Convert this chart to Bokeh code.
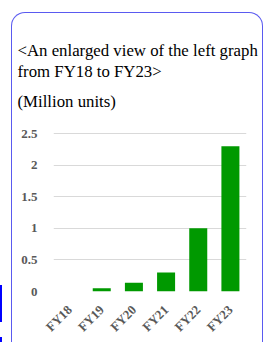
from bokeh.plotting import figure
from bokeh.models import FactorRange, Range1d, Title, InlineStyleSheet
from bokeh.embed import file_html
from bokeh.resources import INLINE
from math import pi

categories = ["FY18", "FY19", "FY20", "FY21", "FY22", "FY23"]
values = [0.0, 0.05, 0.14, 0.30, 1.0, 2.3]
y_ticks = [0, 0.5, 1, 1.5, 2, 2.5]
title_lines = ["<An enlarged view of the left graph", "from FY18 to FY23>"]
unit_label = "(Million units)"

W, H = 263, 342
p = figure(width=W, height=H, x_range=FactorRange(*categories, range_padding=0),
           y_range=Range1d(0, 2.77), output_backend="svg", toolbar_location=None,
           min_border_left=53, min_border_right=17, min_border_top=116, min_border_bottom=51)
p.outline_line_color = None
p.background_fill_color = None
p.border_fill_color = "white"

p.vbar(x=categories, top=values, width=0.56, fill_color="#009900", line_color=None)

p.xgrid.grid_line_color = None
p.ygrid.grid_line_color = "#d9d9d9"
p.ygrid.grid_line_width = 1
p.yaxis.ticker = y_ticks
p.yaxis.major_label_overrides = {0: "0", 0.5: "0.5", 1: "1", 1.5: "1.5", 2: "2", 2.5: "2.5"}

for ax in (p.xaxis[0], p.yaxis[0]):
    ax.axis_line_color = None
    ax.major_tick_line_color = None
    ax.minor_tick_line_color = None
    ax.major_label_text_font = "Liberation Serif"
    ax.major_label_text_font_style = "bold"
    ax.major_label_text_font_size = "13px"
    ax.major_label_text_color = "#595959"
p.yaxis.major_label_standoff = 10
p.xaxis.major_label_orientation = pi / 4
p.xaxis.major_label_standoff = 10

def make_title(text, standoff):
    return Title(text=text, align="left", offset=-36, standoff=standoff,
                 text_font="Liberation Serif", text_font_size="16.8px",
                 text_font_style="normal", text_color="black")

p.title = make_title(title_lines[0], -4)
p.add_layout(make_title(unit_label, 12), "above")
p.add_layout(make_title(title_lines[1], 5), "above")

css = """
:host { overflow: visible; }
:host::after {
  content: ""; position: absolute; left: 11px; top: 12px; width: 252px; height: 330px;
  box-sizing: border-box; border: 1.5px solid #5a5af0; border-bottom: none;
  border-radius: 14px 14px 0 0; z-index: 10; pointer-events: none;
}
:host::before {
  content: ""; position: absolute; left: 0px; top: 285px; width: 2px; height: 57px;
  background: linear-gradient(#0000ff 0 37px, transparent 37px 52px, #0000ff 52px);
  z-index: 10; pointer-events: none;
}
"""
p.stylesheets = [InlineStyleSheet(css=css)]

open("out.html", "w").write(file_html(p, INLINE))
